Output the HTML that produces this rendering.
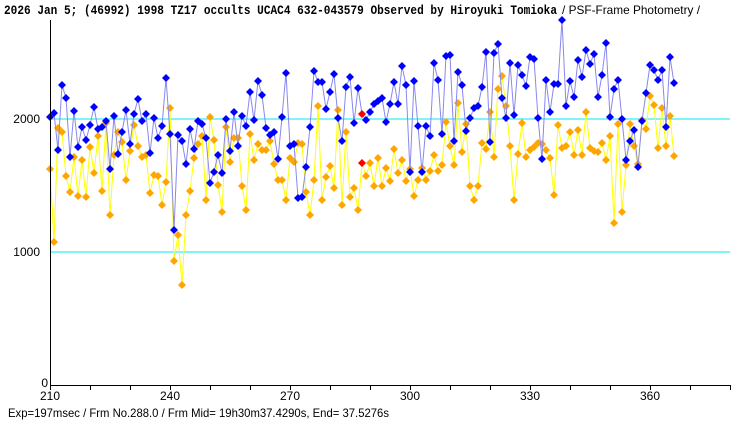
<!DOCTYPE html>
<html><head><meta charset="utf-8"><style>
body{margin:0;background:#fff;width:740px;height:425px;overflow:hidden}
svg{display:block}
text{font-family:"Liberation Sans","Noto Sans CJK JP",sans-serif;font-size:12px;fill:#000}
</style></head><body>
<svg id="s" width="740" height="425" xmlns="http://www.w3.org/2000/svg">
<text x="4" y="14" textLength="553" lengthAdjust="spacingAndGlyphs" style="font-family:'Liberation Mono',monospace;font-weight:bold;font-size:12.6px">2026 Jan 5; (46992) 1998 TZ17 occults UCAC4 632-043579 Observed by Hiroyuki Tomioka</text>
<text x="562" y="14" textLength="138" lengthAdjust="spacingAndGlyphs">/ PSF-Frame Photometry /</text>
<line x1="50" y1="119" x2="730" y2="119" stroke="#00e8f0" stroke-width="1"/>
<line x1="50" y1="252" x2="730" y2="252" stroke="#00e8f0" stroke-width="1"/>
<g id="data"></g>
<line x1="50.5" y1="20" x2="50.5" y2="386" stroke="#000"/>
<line x1="50" y1="385.5" x2="730" y2="385.5" stroke="#000"/>
<g id="ticks" stroke="#000"></g>
<text x="40" y="123" text-anchor="end">2000</text>
<text x="40" y="256" text-anchor="end">1000</text>
<text x="48" y="387" text-anchor="end">0</text>
<text x="50" y="400" text-anchor="middle">210</text>
<text x="170" y="400" text-anchor="middle">240</text>
<text x="290" y="400" text-anchor="middle">270</text>
<text x="410" y="400" text-anchor="middle">300</text>
<text x="530" y="400" text-anchor="middle">330</text>
<text x="650" y="400" text-anchor="middle">360</text>
<text x="8" y="417" textLength="381" lengthAdjust="spacingAndGlyphs">Exp=197msec / Frm No.288.0 / Frm Mid= 19h30m37.4290s,  End= 37.5276s</text>
</svg>
<script>
var B=[117,113,150,85,98,157,111,147,127,140,125,107,129,127,121,169,116,154,132,110,144,114,99,121,114,153,118,138,126,78,134,230,135,141,164,129,149,121,124,138,183,172,155,173,119,151,112,146,116,126,92,120,81,95,128,135,132,159,117,73,146,144,198,197,167,127,71,82,82,109,92,74,118,141,87,77,123,88,114,120,112,104,101,98,122,104,82,104,66,85,172,81,126,172,126,136,63,80,134,56,55,141,72,85,131,118,108,106,87,52,142,53,44,98,118,63,115,65,75,86,57,59,118,159,80,112,84,84,20,106,81,97,60,77,50,64,54,97,75,43,117,89,80,119,160,141,130,167,121,93,65,70,80,70,127,57,83];
var O=[169,242,128,132,176,192,157,196,160,197,147,173,136,191,123,215,155,132,142,180,151,125,146,157,155,193,175,176,205,182,108,261,235,285,215,191,158,144,136,200,117,140,185,212,127,162,138,138,186,210,134,160,144,150,150,141,164,180,180,200,158,162,143,144,192,215,180,106,200,177,166,188,110,205,132,197,188,210,163,176,163,186,158,186,168,181,149,173,160,181,169,196,180,168,180,171,155,171,165,122,146,165,103,152,124,186,200,186,143,149,112,157,89,76,106,146,200,154,123,157,150,147,143,144,150,158,195,125,148,146,132,155,130,155,112,148,151,152,143,160,136,223,124,212,165,124,146,164,120,129,96,105,148,108,146,116,156];
var g=document.getElementById('data'),h='';
function ser(a,lc,mc){var p=a.map(function(y,i){return (50+4*i)+','+y}).join(' ');
h+='<polyline points="'+p+'" fill="none" stroke="'+lc+'" stroke-width="1"/>';
a.forEach(function(y,i){var x=50+4*i,c=(x==362)?'#ff0000':mc;h+='<polygon points="'+x+','+(y-4)+' '+(x+4)+','+y+' '+x+','+(y+4)+' '+(x-4)+','+y+'" fill="'+c+'"/>';});}
ser(O,'#ffff00','#ffa500');ser(B,'#8888ee','#0000ff');
g.innerHTML=h;
var t='';for(var x=50;x<=730;x+=40){t+='<line x1="'+(x+.5)+'" y1="385" x2="'+(x+.5)+'" y2="390"/>';}
document.getElementById('ticks').innerHTML=t;
</script>
</body></html>
